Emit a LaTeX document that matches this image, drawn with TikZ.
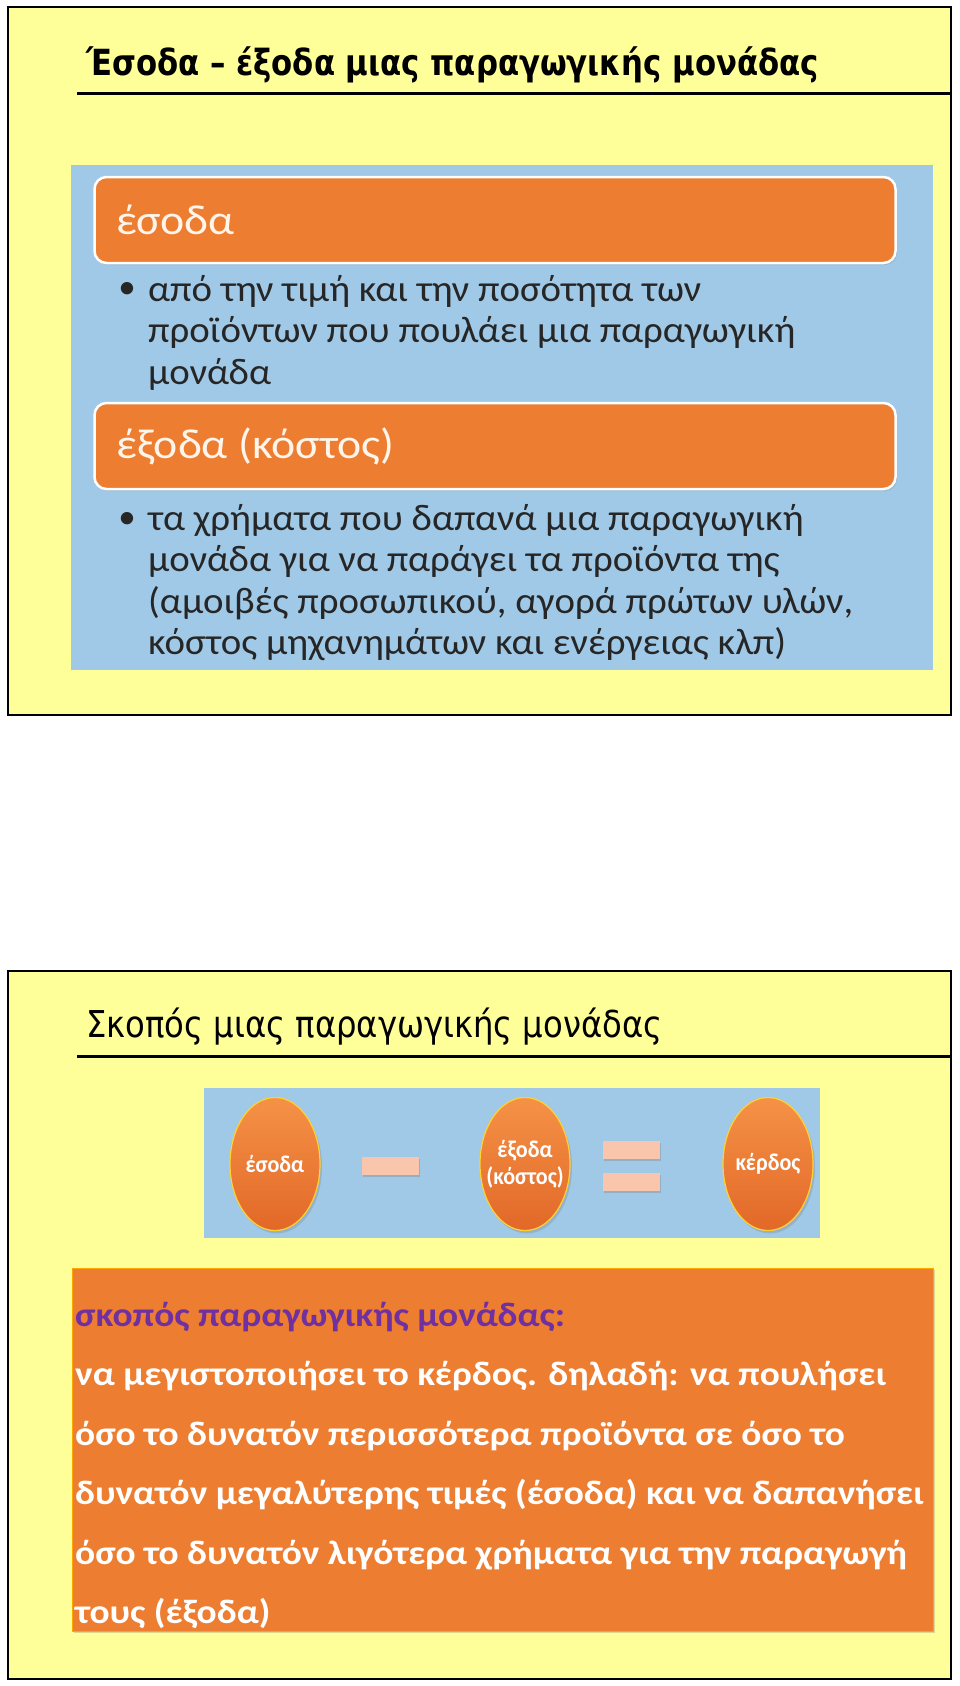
\documentclass[tikz,border=0pt]{standalone}
\usepackage{fontspec}
\setmainfont{Carlito}
\newfontfamily\bodyfont[FakeStretch=1.05]{Carlito}
\newfontfamily\headfont[FakeStretch=1.09]{Carlito}
\newfontfamily\goalfont[FakeStretch=1.1]{Carlito}
\newfontfamily\ballfont[FakeStretch=0.92]{Carlito}
\newfontfamily\titlefont[FakeStretch=0.95]{DejaVu Sans Condensed}
\newfontfamily\subtitlefont[FakeStretch=0.97]{DejaVu Sans Condensed}
\usetikzlibrary{shapes.geometric,shadows}

\definecolor{slideyellow}{RGB}{255,255,153}
\definecolor{panelblue}{RGB}{160,201,231}
\definecolor{barorange}{RGB}{237,125,49}
\definecolor{balltop}{RGB}{245,146,70}
\definecolor{ballbottom}{RGB}{226,104,40}
\definecolor{signpink}{RGB}{249,197,172}
\definecolor{headpurple}{RGB}{112,48,160}
\definecolor{bodygray}{RGB}{38,38,38}

\begin{document}
\begin{tikzpicture}[x=1pt, y=-1pt,
    slide/.style={draw=black, line width=2pt, fill=slideyellow},
    rule/.style={draw=black, line width=3pt},
    title/.style={anchor=west, inner sep=0pt},
    panel/.style={fill=panelblue, inner sep=0pt},
    bar/.style={draw=white, line width=2.5pt, fill=barorange, rounded corners=12pt,
                inner sep=0pt, minimum width=801pt, minimum height=86pt,
                drop shadow={shadow xshift=1.5pt, shadow yshift=-2pt, opacity=0.25}},
    barlabel/.style={anchor=west, inner sep=0pt, text=white!92!orange,
                     font=\headfont\fontsize{42}{46}\selectfont},
    body/.style={anchor=west, inner sep=0pt, align=left, text=bodygray,
                 font=\bodyfont\fontsize{37}{41.5}\selectfont},
    dot/.style={inner sep=0pt, text=bodygray, font=\fontsize{35}{41.5}\selectfont},
    ball/.style={ellipse, draw=orange!45!yellow!80!white, line width=1.2pt,
                 top color=balltop, bottom color=ballbottom,
                 minimum width=90pt, minimum height=133pt, inner sep=0pt,
                 drop shadow={shadow xshift=2pt, shadow yshift=-3pt, opacity=0.3}},
    balltext/.style={inner sep=0pt, align=center, text=white,
                     font=\ballfont\bfseries\fontsize{24}{27}\selectfont},
    sign/.style={fill=signpink, minimum width=57pt, minimum height=18pt, inner sep=0pt,
                 drop shadow={shadow xshift=1pt, shadow yshift=-2pt, opacity=0.35}},
    goalbox/.style={fill=barorange, draw=orange!70!yellow, line width=1pt, inner sep=0pt,
                    minimum width=861pt, minimum height=363pt,
                    drop shadow={shadow xshift=2pt, shadow yshift=-2pt, opacity=0.3}},
    goaltext/.style={anchor=west, inner sep=0pt, align=left,
                     font=\goalfont\bfseries\fontsize{34}{59.5}\selectfont},
  ]
  \useasboundingbox (0,0) rectangle (960,1686);

  % slide 1
  \draw[slide] (7.5,7.5) rectangle (951,715);
  \node[title, font=\titlefont\bfseries\fontsize{36}{40}\selectfont] (titleA) at (86,65)
    {Έσοδα – έξοδα μιας παραγωγικής μονάδας};
  \draw[rule] (77,93.5) -- (951,93.5);

  \node[panel, minimum width=862pt, minimum height=505pt] (panelA) at (502,417) {};
  \node[bar] (barIn)  at (495,220) {};
  \node[bar] (barOut) at (495,446) {};
  \node[barlabel] (labelIn)  at (116,220) {έσοδα};
  \node[barlabel] (labelOut) at (116,446) {έξοδα (κόστος)};

  \node[dot] (dotIn) at (127,290) {•};
  \node[body] (textIn) at (148,332.5)
    {από την τιμή και την ποσότητα των\\
     προϊόντων που πουλάει μια παραγωγική\\
     μονάδα};
  \node[dot] (dotOut) at (127,520) {•};
  \node[body] (textOut) at (148,582.5)
    {τα χρήματα που δαπανά μια παραγωγική\\
     μονάδα για να παράγει τα προϊόντα της\\
     (αμοιβές προσωπικού, αγορά πρώτων υλών,\\
     κόστος μηχανημάτων και ενέργειας κλπ)};

  % slide 2
  \draw[slide] (7.5,971) rectangle (951,1679);
  \node[title, font=\subtitlefont\fontsize{37}{40}\selectfont] (titleB) at (86,1027)
    {Σκοπός μιας παραγωγικής μονάδας};
  \draw[rule] (77,1056) -- (951,1056);

  \node[panel, minimum width=616pt, minimum height=150pt] (panelB) at (512,1163) {};
  \node[ball] (income) at (275,1164) {};
  \node[ball] (cost)   at (525,1164) {};
  \node[ball] (profit) at (768,1164) {};
  \node[balltext] (incomeText) at (income) {έσοδα};
  \node[balltext] (costText)   at (cost)   {έξοδα\\(κόστος)};
  \node[balltext] (profitText) at (profit) {κέρδος};
  \node[sign] (minus)  at (390,1166) {};
  \node[sign] (eqTop)  at (631,1150) {};
  \node[sign] (eqBot)  at (631,1182) {};

  \node[goalbox] (goal) at (502.5,1449.5) {};
  \node[goaltext, text=headpurple] (goalHead) at (75,1317) {σκοπός παραγωγικής μονάδας:};
  \node[goaltext, text=white] (goalBody) at (75,1495)
    {να μεγιστοποιήσει το κέρδος. δηλαδή: να πουλήσει\\
     όσο το δυνατόν περισσότερα προϊόντα σε όσο το\\
     δυνατόν μεγαλύτερης τιμές (έσοδα) και να δαπανήσει\\
     όσο το δυνατόν λιγότερα χρήματα για την παραγωγή\\
     τους (έξοδα)};
\end{tikzpicture}
\end{document}
